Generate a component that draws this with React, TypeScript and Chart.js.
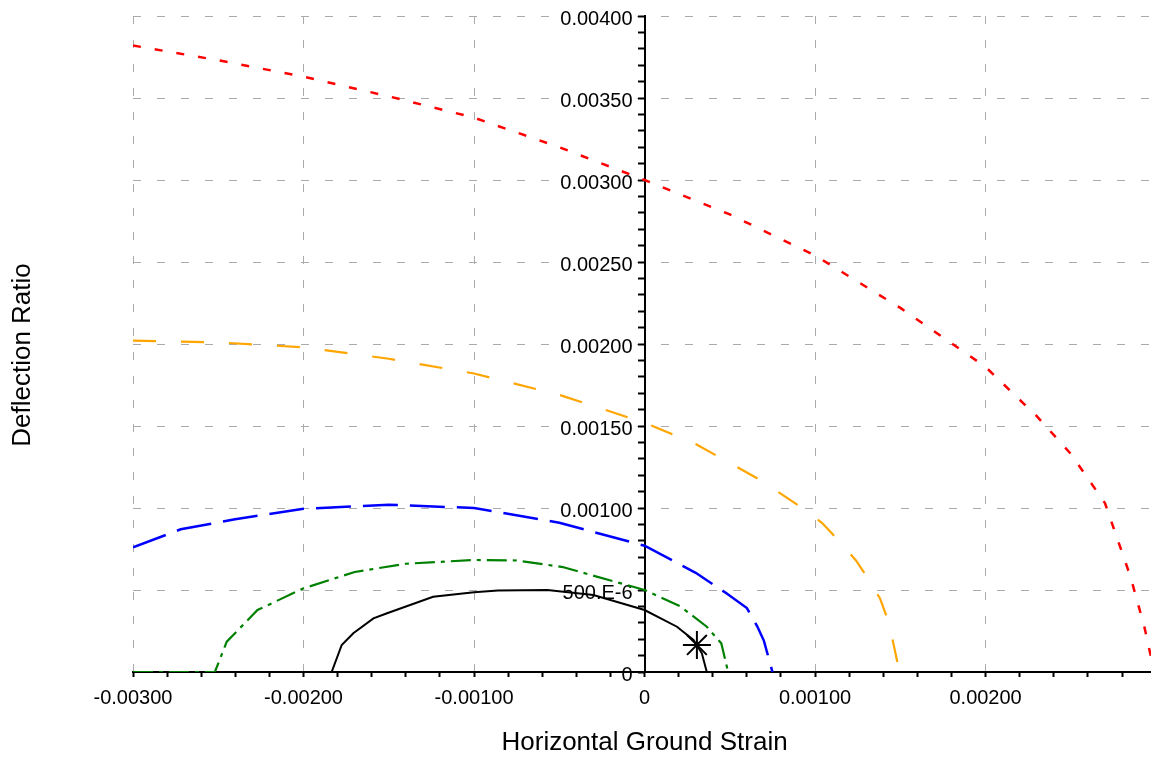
import React, { useEffect, useRef } from 'react';
import { Chart, registerables } from 'chart.js';

Chart.register(...registerables);

// ---------- data (strain, deflection ratio) ----------
const redX = [-0.003, -0.0025, -0.002, -0.0015, -0.001, -0.0005, 0, 0.0005, 0.001, 0.0015, 0.002, 0.0023, 0.0025, 0.0027, 0.00285, 0.00293, 0.002966, 0.00299];
const redY = [0.00382, 0.00373, 0.00363, 0.00351, 0.00338, 0.0032, 0.003, 0.00279, 0.00254, 0.00222, 0.00186, 0.00156, 0.00133, 0.00103, 0.00058, 0.00028, 0.00011, 0.0];

const orangeX = [-0.003, -0.0025, -0.002, -0.0015, -0.001, -0.0005, 0, 0.0003, 0.00068, 0.00091, 0.00104, 0.00114, 0.00124, 0.00131, 0.00138, 0.00143, 0.00146, 0.001495];
const orangeY = [0.00202, 0.00201, 0.00198, 0.00191, 0.00182, 0.00169, 0.00152, 0.00139, 0.00117, 0.00101, 0.00091, 0.0008, 0.00068, 0.00057, 0.00045, 0.00031, 0.00017, 0.0];

const blueX = [-0.003, -0.00272, -0.00241, -0.002, -0.0015, -0.001, -0.0005, 0, 0.0003, 0.00048, 0.0006, 0.00066, 0.0007, 0.00075];
const blueY = [0.00076, 0.00087, 0.00093, 0.000995, 0.00102, 0.001, 0.00091, 0.00077, 0.000605, 0.00048, 0.00039, 0.00028, 0.00019, 0.0];

const greenX = [-0.003, -0.00252, -0.00245, -0.00227, -0.002, -0.0017, -0.0014, -0.001, -0.00075, -0.00048, 0, 0.00021, 0.000365, 0.00045, 0.00049];
const greenY = [0.0, 0.0, 0.000185, 0.000378, 0.00051, 0.00061, 0.00066, 0.000683, 0.00068, 0.00064, 0.0005, 0.0004, 0.000276, 0.000175, 0.0];

const blackX = [-0.001835, -0.001776, -0.001708, -0.00159, -0.00151, -0.00124, -0.001, -0.00086, -0.00057, -0.0003, 0, 0.00019, 0.000287, 0.000336, 0.000365];
const blackY = [0.0, 0.000165, 0.000236, 0.000327, 0.000358, 0.000459, 0.000487, 0.000497, 0.0005, 0.00047, 0.000378, 0.000276, 0.000195, 0.000114, 0.0];

const markerX = [0.000307];
const markerY = [0.000165];

// ---------- axes ----------
const X_MIN = -0.003;
const X_MAX = 0.00297;
const Y_MIN = 0;
const Y_MAX = 0.004;
const X_MINOR_STEP = 0.0002;
const Y_MINOR_STEP = 0.0001;
const xLabelValues = [-0.003, -0.002, -0.001, 0, 0.001, 0.002];
const xLabelTexts = ['-0.00300', '-0.00200', '-0.00100', '0', '0.00100', '0.00200'];
const yLabelValues = [0, 0.0005, 0.001, 0.0015, 0.002, 0.0025, 0.003, 0.0035, 0.004];
const yLabelTexts = ['0', '500.E-6', '0.00100', '0.00150', '0.00200', '0.00250', '0.00300', '0.00350', '0.00400'];
const X_TITLE = 'Horizontal Ground Strain';
const Y_TITLE = 'Deflection Ratio';

const FONT_FAMILY = '"Liberation Sans", Arial, Helvetica, sans-serif';
const GRID_COLOR = '#ababab';
const NONE = 'rgba(0,0,0,0)';

const findIdx = (v: number, list: number[]) => list.findIndex((t) => Math.abs(t - v) < 1e-9);
const pts = (xs: number[], ys: number[]) => xs.map((x, i) => ({ x, y: ys[i] }));

// y tick labels sit left of the x=0 axis, with a white box behind them
const yLabelPlugin = {
  id: 'yAxisLabels',
  beforeDatasetsDraw(chart: any) {
    const { ctx, scales } = chart;
    const axisX = scales.x.getPixelForValue(0);
    ctx.save();
    ctx.font = `20px ${FONT_FAMILY}`;
    ctx.textAlign = 'right';
    ctx.textBaseline = 'middle';
    yLabelValues.forEach((v, i) => {
      const py = scales.y.getPixelForValue(v) + 3;
      const right = axisX - 12;
      const w = ctx.measureText(yLabelTexts[i]).width;
      if (v > 0) {
        ctx.fillStyle = '#ffffff';
        ctx.fillRect(right - w - 8, py - 11, w + 11, 22);
      }
      ctx.fillStyle = '#000';
      ctx.fillText(yLabelTexts[i], right, py);
    });
    ctx.restore();
  },
};

const titlePlugin = {
  id: 'axisTitles',
  afterDraw(chart: any) {
    const { ctx, scales } = chart;
    ctx.save();
    ctx.fillStyle = '#000';
    ctx.font = `26px ${FONT_FAMILY}`;
    ctx.textAlign = 'center';
    ctx.textBaseline = 'middle';
    ctx.fillText(X_TITLE, scales.x.getPixelForValue(0), 743);
    ctx.translate(23, 355);
    ctx.rotate(-Math.PI / 2);
    ctx.fillText(Y_TITLE, 0, 0);
    ctx.restore();
  },
};

export default function App() {
  const ref = useRef<HTMLCanvasElement | null>(null);

  useEffect(() => {
    if (!ref.current) return;
    const line = (data: any, color: string, dash: number[], width: number) => ({
      type: 'line',
      data,
      borderColor: color,
      backgroundColor: color,
      borderWidth: width,
      borderDash: dash,
      pointRadius: 0,
      fill: false,
      tension: 0,
      showLine: true,
    });
    const chart = new Chart(ref.current, {
      type: 'scatter',
      data: {
        datasets: [
          line(pts(redX, redY), '#ff0000', [8, 14], 2.5) as any,
          line(pts(orangeX, orangeY), '#ffa500', [23, 25], 2.2) as any,
          line(pts(blueX, blueY), '#0000ff', [35, 12], 2.5) as any,
          line(pts(greenX, greenY), '#008000', [20, 6, 4, 6], 2.2) as any,
          line(pts(blackX, blackY), '#000000', [], 2) as any,
          {
            type: 'scatter',
            data: pts(markerX, markerY),
            pointStyle: 'star',
            pointRadius: 14,
            borderColor: '#000',
            backgroundColor: '#000',
            pointBorderWidth: 2,
            borderWidth: 2,
            showLine: false,
          } as any,
        ],
      },
      options: {
        responsive: false,
        animation: false,
        devicePixelRatio: 1,
        events: [],
        layout: { autoPadding: false, padding: { left: 133, right: 0, top: 16, bottom: 0 } },
        plugins: { legend: { display: false }, tooltip: { enabled: false }, title: { display: false } },
        scales: {
          x: {
            type: 'linear',
            position: 'bottom',
            min: X_MIN,
            max: X_MAX,
            afterFit: (scale: any) => {
              scale.height = 86;
              scale.paddingLeft = 0;
              scale.paddingRight = 0;
            },
            border: { display: true, color: '#000', width: 2, dash: [8, 16] },
            grid: {
              color: (c: any) => {
                const v = c.tick ? c.tick.value : NaN;
                return findIdx(v, xLabelValues) >= 0 && Math.abs(v) > 1e-12 ? GRID_COLOR : NONE;
              },
              lineWidth: 1,
              drawTicks: true,
              tickLength: 5,
              tickColor: '#000',
              tickWidth: 2,
              tickBorderDash: [],
            },
            ticks: {
              stepSize: X_MINOR_STEP,
              autoSkip: false,
              includeBounds: false,
              maxRotation: 0,
              minRotation: 0,
              padding: 9,
              color: '#000',
              font: { family: FONT_FAMILY, size: 20 },
              callback: (v: any) => {
                const i = findIdx(Number(v), xLabelValues);
                return i >= 0 ? xLabelTexts[i] : '';
              },
            },
          } as any,
          y: {
            type: 'linear',
            position: { x: 0 },
            min: Y_MIN,
            max: Y_MAX,
            border: { display: true, color: '#000', width: 2, dash: [8, 16] },
            grid: {
              color: (c: any) => {
                const v = c.tick ? c.tick.value : NaN;
                return findIdx(v, yLabelValues) >= 0 && Math.abs(v) > 1e-12 ? GRID_COLOR : NONE;
              },
              lineWidth: 1,
              drawTicks: true,
              tickLength: 6,
              tickColor: '#000',
              tickWidth: 2,
              tickBorderDash: [],
            },
            ticks: {
              stepSize: Y_MINOR_STEP,
              autoSkip: false,
              includeBounds: false,
              display: true,
              color: NONE,
              font: { family: FONT_FAMILY, size: 20 },
              callback: () => '',
            },
          } as any,
        },
      },
      plugins: [yLabelPlugin, titlePlugin],
    });
    return () => chart.destroy();
  }, []);

  return (
    <div style={{ position: 'fixed', left: 0, top: 0, width: 1151, height: 758, overflow: 'hidden', background: '#fff' }}>
      <canvas ref={ref} width={1151} height={758} style={{ width: 1151, height: 758, display: 'block' }} />
    </div>
  );
}
